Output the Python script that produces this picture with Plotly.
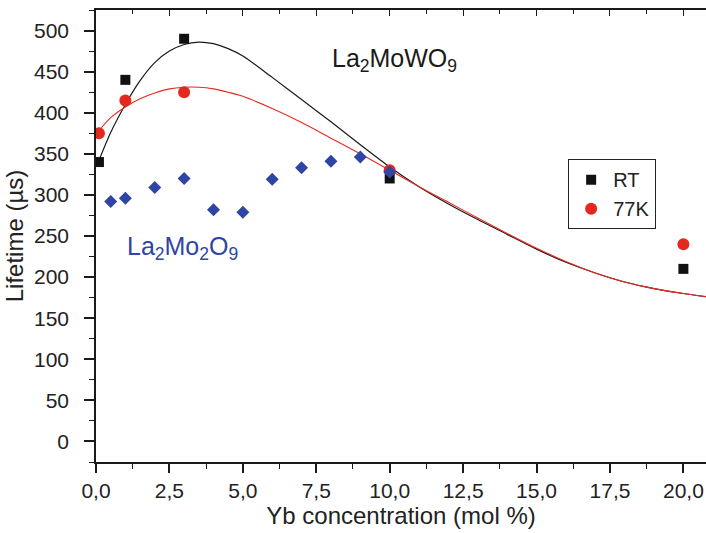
import plotly.graph_objects as go

# Measured lifetimes (µs) vs Yb concentration (mol %)
conc_doped = [0.1, 1.0, 3.0, 10.0, 20.0]
lifetime_rt = [340, 440, 490, 320, 210]
lifetime_77k = [375, 415, 425, 330, 240]

# La2Mo2O9 host series
conc_lmo = [0.5, 1.0, 2.0, 3.0, 4.0, 5.0, 6.0, 7.0, 8.0, 9.0, 10.0]
lifetime_lmo = [292, 296, 309, 320, 282, 279, 319, 333, 341, 346, 328]

# Fitted curves, sampled along the concentration axis
fit_x = [0.1, 0.5, 1.0, 1.5, 2.0, 2.5, 3.0, 3.5, 4.0, 4.5, 5.0, 6.0, 7.0, 8.0, 9.0,
         10.0, 11.0, 12.0, 13.0, 14.0, 15.0, 16.0, 17.0, 18.0, 19.0, 20.0, 20.8]
fit_rt = [342, 376, 410, 439, 461, 475, 483, 486, 484, 478, 469, 443, 416, 389, 361,
          334, 310, 289, 270, 252, 234, 218, 205, 194, 186, 180, 176]
fit_77k = [378, 394, 407, 417, 424, 429, 431, 431, 429, 425, 420, 405, 388, 369, 350,
           330, 310, 291, 272, 253, 235, 219, 205, 194, 186, 180, 176]

x_ticks = [0.0, 2.5, 5.0, 7.5, 10.0, 12.5, 15.0, 17.5, 20.0]
y_ticks = [0, 50, 100, 150, 200, 250, 300, 350, 400, 450, 500]

BLACK = "#111111"
RED = "#e2281f"
BLUE = "#2f45a3"
FONT = "Liberation Sans, Arial, sans-serif"

fig = go.Figure()

fig.add_trace(go.Scatter(x=fit_x, y=fit_rt, mode="lines",
                         line=dict(color="#1a1a1a", width=1.2, shape="spline", smoothing=0.8),
                         showlegend=False, hoverinfo="skip"))
fig.add_trace(go.Scatter(x=fit_x, y=fit_77k, mode="lines",
                         line=dict(color="#ea2a20", width=1.1, shape="spline", smoothing=0.8),
                         showlegend=False, hoverinfo="skip"))

fig.add_trace(go.Scatter(x=conc_doped, y=lifetime_rt, mode="markers", name="RT",
                         marker=dict(symbol="square", size=10, color=BLACK)))
fig.add_trace(go.Scatter(x=conc_doped, y=lifetime_77k, mode="markers", name="77K",
                         marker=dict(symbol="circle", size=12, color=RED)))
fig.add_trace(go.Scatter(x=conc_lmo, y=lifetime_lmo, mode="markers", showlegend=False,
                         marker=dict(symbol="diamond", size=10, color=BLUE)))

# empty trace carrying the top axis
fig.add_trace(go.Scatter(x=[], y=[], xaxis="x2", showlegend=False, hoverinfo="skip"))

fig.add_annotation(x=7.97, y=464, xref="x", yref="y", xanchor="left", yanchor="middle",
                   text="La<sub>2</sub>MoWO<sub>9</sub>", showarrow=False,
                   font=dict(family=FONT, size=25, color="#1a1a1a"))
fig.add_annotation(x=0.99, y=236, xref="x", yref="y", xanchor="left", yanchor="middle",
                   text="La<sub>2</sub>Mo<sub>2</sub>O<sub>9</sub>", showarrow=False,
                   font=dict(family=FONT, size=25, color=BLUE))

axis_common = dict(showline=True, linecolor="#1a1a1a", linewidth=1.6, showgrid=False, zeroline=False,
                   ticks="outside", tickcolor="#1a1a1a", tickwidth=1.6,
                   tickfont=dict(family=FONT, size=21, color="#222222"))

fig.update_layout(
    width=706, height=533,
    margin=dict(l=96, r=0, t=10, b=71),
    paper_bgcolor="white", plot_bgcolor="white",
    separators=", ",
    font=dict(family=FONT, color="#222222"),
    xaxis=dict(range=[0, 20.77], tickvals=x_ticks, tickformat=".1f", ticklen=9,
               minor=dict(dtick=1.25, tick0=0, ticks="outside", ticklen=5, tickwidth=1.4, tickcolor="#1a1a1a"),
               title=dict(text="Yb concentration (mol %)", font=dict(family=FONT, size=24, color="#222222"), standoff=5),
               ticklabelstandoff=0, **axis_common),
    xaxis2=dict(overlaying="x", side="top", matches="x", anchor="y", range=[0, 20.77],
                showline=True, linecolor="#1a1a1a", linewidth=1.6, showgrid=False, zeroline=False,
                showticklabels=False, ticks="inside", tickvals=x_ticks, ticklen=6, tickwidth=1.4,
                tickcolor="#1a1a1a",
                minor=dict(dtick=1.25, tick0=0, ticks="inside", ticklen=4, tickwidth=1.2, tickcolor="#1a1a1a")),
    yaxis=dict(range=[-25, 525], tickvals=y_ticks, ticklen=10,
               minor=dict(dtick=25, tick0=0, ticks="outside", ticklen=5, tickwidth=1.4, tickcolor="#1a1a1a"),
               title=dict(text="Lifetime (µs)", font=dict(family=FONT, size=24, color="#222222"), standoff=4),
               ticklabelstandoff=11, **axis_common),
    legend=dict(x=0.774, y=0.670, xanchor="left", yanchor="top", bgcolor="white",
                bordercolor="#222222", borderwidth=1,
                font=dict(family=FONT, size=20, color="#222222"), itemwidth=34,
                tracegroupgap=0),
)

fig.write_html("out.html")
